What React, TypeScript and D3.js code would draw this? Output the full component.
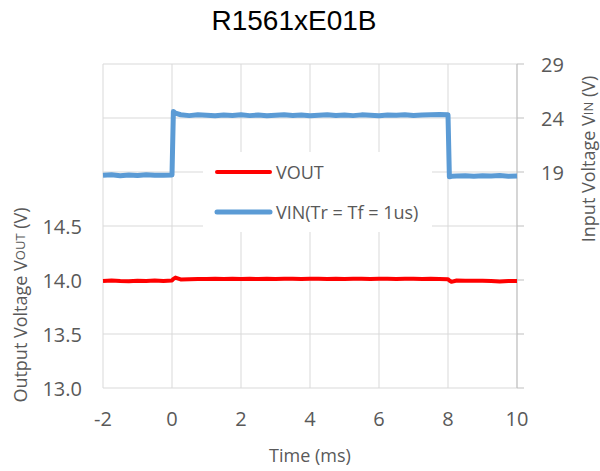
import React from "react";
import * as d3 from "d3";

const title = "R1561xE01B";
const timeMs = [-2,-1.75,-1.5,-1.25,-1,-0.75,-0.5,-0.25,0,0.04,0.1,0.25,0.5,0.75,1,1.25,1.5,1.75,2,2.25,2.5,2.75,3,3.25,3.5,3.75,4,4.25,4.5,4.75,5,5.25,5.5,5.75,6,6.25,6.5,6.75,7,7.25,7.5,7.75,8,8.04,8.1,8.25,8.5,8.75,9,9.25,9.5,9.75,10];
const vinV = [18.70,18.74,18.66,18.72,18.68,18.75,18.69,18.71,18.72,24.6,24.45,
  24.3,24.22,24.3,24.26,24.2,24.28,24.24,24.3,24.22,24.27,24.2,24.25,24.3,24.23,24.28,24.21,24.26,24.3,24.24,24.27,24.22,24.29,24.25,24.2,24.28,24.26,24.31,24.24,24.27,24.3,24.33,
  24.3,18.55,18.6,
  18.62,18.66,18.6,18.65,18.63,18.67,18.61,18.64];
const voutV = [13.99,13.995,13.99,13.988,13.992,13.99,13.995,13.99,13.995,14.01,14.022,
  14.005,14.008,14.01,14.009,14.011,14.01,14.012,14.01,14.011,14.009,14.012,14.01,14.011,14.012,14.01,14.011,14.012,14.01,14.011,14.01,14.012,14.011,14.01,14.012,14.011,14.01,14.012,14.011,14.01,14.011,14.01,
  14.008,13.995,13.983,
  13.995,13.993,13.992,13.994,13.99,13.985,13.99,13.99];
const xTicks = [-2,0,2,4,6,8,10];
const leftTicks = [13.0,13.5,14.0,14.5,15.0,15.5,16.0];
const leftLabels = ["13.0","13.5","14.0","14.5"];
const rightTicks = [-1,4,9,14,19,24,29];
const rightLabels = ["19","24","29"];
const legendLabels = ["VOUT","VIN(Tr = Tf = 1us)"];

export default function App() {
  const W = 600, H = 471;
  const L = 103, R = 517, T = 64, B = 388;
  const x = d3.scaleLinear().domain([-2, 10]).range([L, R]);
  const yL = d3.scaleLinear().domain([13, 16]).range([B, T]);
  const yR = d3.scaleLinear().domain([-1, 29]).range([B, T]);
  const idx = timeMs.map((_, i) => i);
  const vinLine = d3.line<number>().x(i => x(timeMs[i])).y(i => yR(vinV[i]));
  const voutLine = d3.line<number>().x(i => x(timeMs[i])).y(i => yL(voutV[i]));
  const font = "'Open Sans', sans-serif";
  const grey = "#595959";
  const grid = "#d9d9d9";
  return (
    <svg width={W} height={H} style={{ position: "absolute", left: 0, top: 0, background: "#fff" }} fontFamily={font}>
      <text x={294} y={30} textAnchor="middle" fontFamily="'Liberation Sans', Arial, sans-serif" fontSize={28} fill="#000">{title}</text>
      {leftTicks.map(t => (
        <line key={"h" + t} x1={L} x2={R} y1={yL(t)} y2={yL(t)} stroke={grid} strokeWidth={1} />
      ))}
      {xTicks.map(t => (
        <line key={"v" + t} x1={x(t)} x2={x(t)} y1={T} y2={B} stroke={grid} strokeWidth={1} />
      ))}
      <line x1={R} x2={R} y1={T} y2={B} stroke="#bfbfbf" strokeWidth={1} />
      {rightTicks.map(t => (
        <line key={"rt" + t} x1={R} x2={R + 7} y1={yR(t)} y2={yR(t)} stroke="#bfbfbf" strokeWidth={1} />
      ))}
      <path d={vinLine(idx) || ""} fill="none" stroke="#5B9BD5" strokeWidth={5} strokeLinejoin="round" />
      <path d={voutLine(idx) || ""} fill="none" stroke="#FF0000" strokeWidth={4} strokeLinejoin="round" />
      <rect x={203} y={152} width={229} height={80} fill="#fff" />
      <line x1={217} x2={270} y1={172} y2={172} stroke="#FF0000" strokeWidth={4} strokeLinecap="round" />
      <text x={276} y={172} dominantBaseline="central" fontSize={18} fill={grey}>{legendLabels[0]}</text>
      <line x1={217} x2={270} y1={212} y2={212} stroke="#5B9BD5" strokeWidth={5} strokeLinecap="round" />
      <text x={276} y={212} dominantBaseline="central" fontSize={18} fill={grey}>{legendLabels[1]}</text>
      {leftLabels.map(s => (
        <text key={"ll" + s} x={82} y={yL(+s)} textAnchor="end" dominantBaseline="central" fontSize={20} fill={grey}>{s}</text>
      ))}
      {rightLabels.map(s => (
        <text key={"rl" + s} x={541} y={yR(+s)} textAnchor="start" dominantBaseline="central" fontSize={20} fill={grey}>{s}</text>
      ))}
      {xTicks.map(t => (
        <text key={"xl" + t} x={x(t)} y={418} textAnchor="middle" dominantBaseline="central" fontSize={20} fill={grey}>{String(t)}</text>
      ))}
      <text x={310} y={455} textAnchor="middle" dominantBaseline="central" fontSize={18} fill={grey}>Time (ms)</text>
      <text transform="translate(20,305) rotate(-90)" textAnchor="middle" dominantBaseline="central" fontSize={18} fill={grey}>
        Output Voltage V<tspan fontSize={13}>OUT</tspan> (V)
      </text>
      <text transform="translate(588,159) rotate(-90)" textAnchor="middle" dominantBaseline="central" fontSize={18} fill={grey}>
        Input Voltage V<tspan fontSize={13}>IN</tspan> (V)
      </text>
    </svg>
  );
}
